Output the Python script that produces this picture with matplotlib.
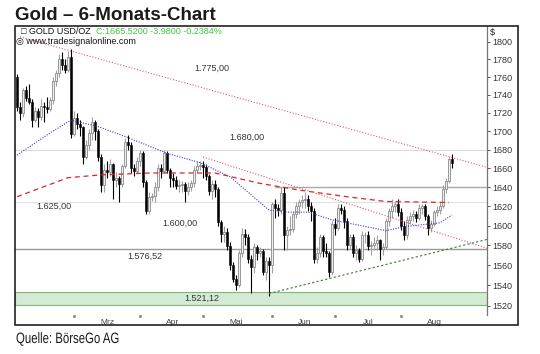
import numpy as np
import matplotlib.pyplot as plt
from matplotlib.patches import Rectangle, PathPatch
from matplotlib.ticker import FixedLocator, NullLocator
from matplotlib.textpath import TextPath
from matplotlib.font_manager import FontProperties
from matplotlib.transforms import Affine2D

# daily candles (trading days 3 Feb - 24 Aug)
opens = [1760, 1727, 1720, 1745, 1737, 1732, 1712, 1722, 1716, 1728,
         1726, 1724, 1734, 1756, 1764, 1781, 1774, 1768, 1783, 1697,
         1714, 1708, 1704, 1672, 1685, 1698, 1710, 1700, 1672, 1642,
         1658, 1656, 1665, 1648, 1650, 1643, 1662, 1688, 1685, 1660,
         1657, 1668, 1676, 1645, 1615, 1630, 1631, 1640, 1660, 1657,
         1676, 1658, 1650, 1648, 1641, 1642, 1643, 1636, 1640, 1644,
         1658, 1662, 1664, 1661, 1652, 1636, 1643, 1638, 1604, 1592,
         1594, 1579, 1560, 1546, 1540, 1572, 1592, 1588, 1566, 1558,
         1578, 1572, 1574, 1553, 1564, 1560, 1622, 1618, 1616, 1634,
         1590, 1596, 1597, 1612, 1620, 1624, 1627, 1628, 1620, 1615,
         1566, 1572, 1588, 1574, 1572, 1553, 1602, 1598, 1618, 1616,
         1605, 1580, 1588, 1572, 1575, 1566, 1590, 1590, 1579, 1580,
         1582, 1585, 1576, 1578, 1605, 1615, 1620, 1622, 1614, 1600,
         1590, 1606, 1610, 1612, 1608, 1618, 1620, 1610, 1598, 1602,
         1614, 1616, 1620, 1638, 1646, 1669.5]
highs = [1763, 1732, 1748, 1750, 1752, 1735, 1726, 1725, 1735, 1732,
         1738, 1738, 1760, 1768, 1786, 1788, 1780, 1790, 1792, 1722,
         1720, 1712, 1706, 1690, 1702, 1715, 1712, 1702, 1675, 1665,
         1668, 1670, 1666, 1656, 1652, 1665, 1692, 1696, 1688, 1665,
         1672, 1680, 1678, 1648, 1635, 1634, 1645, 1665, 1665, 1680,
         1678, 1660, 1655, 1652, 1648, 1647, 1645, 1645, 1648, 1662,
         1668, 1668, 1668, 1665, 1654, 1648, 1648, 1640, 1606, 1600,
         1598, 1583, 1563, 1550, 1575, 1598, 1597, 1592, 1570, 1582,
         1580, 1578, 1576, 1568, 1568, 1625, 1628, 1622, 1640, 1640,
         1600, 1610, 1615, 1625, 1628, 1632, 1635, 1632, 1625, 1618,
         1578, 1592, 1590, 1582, 1574, 1605, 1608, 1622, 1622, 1620,
         1608, 1592, 1592, 1580, 1577, 1595, 1594, 1595, 1584, 1588,
         1590, 1586, 1582, 1608, 1618, 1628, 1626, 1628, 1618, 1605,
         1610, 1614, 1616, 1615, 1622, 1622, 1622, 1612, 1606, 1616,
         1620, 1624, 1642, 1650, 1672, 1675]
lows = [1722, 1712, 1715, 1733, 1730, 1705, 1710, 1705, 1712, 1710,
        1720, 1722, 1730, 1750, 1760, 1768, 1764, 1766, 1692, 1695,
        1702, 1695, 1665, 1670, 1680, 1690, 1690, 1668, 1635, 1635,
        1650, 1652, 1628, 1640, 1625, 1640, 1660, 1680, 1655, 1652,
        1655, 1662, 1640, 1612, 1612, 1626, 1625, 1636, 1650, 1655,
        1655, 1640, 1640, 1638, 1635, 1635, 1625, 1632, 1636, 1640,
        1655, 1658, 1650, 1648, 1632, 1628, 1630, 1600, 1583, 1583,
        1575, 1555, 1543, 1535, 1538, 1568, 1580, 1562, 1532, 1552,
        1565, 1568, 1550, 1545, 1530, 1552, 1608, 1610, 1612, 1575,
        1575, 1590, 1594, 1608, 1612, 1618, 1618, 1615, 1605, 1562,
        1562, 1568, 1568, 1568, 1548, 1550, 1590, 1596, 1612, 1598,
        1575, 1576, 1568, 1565, 1563, 1564, 1582, 1575, 1570, 1575,
        1575, 1565, 1570, 1576, 1600, 1608, 1614, 1610, 1596, 1585,
        1586, 1602, 1605, 1604, 1606, 1612, 1606, 1590, 1594, 1600,
        1610, 1612, 1618, 1634, 1644, 1660]
closes = [1727, 1720, 1745, 1737, 1732, 1712, 1722, 1716, 1728, 1726,
          1724, 1734, 1756, 1764, 1781, 1774, 1768, 1783, 1697, 1714,
          1708, 1704, 1672, 1685, 1698, 1710, 1700, 1672, 1642, 1658,
          1656, 1665, 1648, 1650, 1643, 1662, 1688, 1685, 1660, 1657,
          1668, 1676, 1645, 1615, 1630, 1631, 1640, 1660, 1657, 1676,
          1658, 1650, 1648, 1641, 1642, 1643, 1636, 1640, 1644, 1658,
          1662, 1664, 1661, 1652, 1636, 1643, 1638, 1604, 1592, 1594,
          1579, 1560, 1546, 1540, 1572, 1592, 1588, 1566, 1558, 1578,
          1572, 1574, 1553, 1564, 1560, 1622, 1618, 1616, 1634, 1590,
          1596, 1597, 1612, 1620, 1624, 1627, 1628, 1620, 1615, 1566,
          1572, 1588, 1574, 1572, 1553, 1602, 1598, 1618, 1616, 1605,
          1580, 1588, 1572, 1575, 1566, 1590, 1590, 1579, 1580, 1582,
          1585, 1576, 1578, 1605, 1615, 1620, 1622, 1614, 1600, 1590,
          1606, 1610, 1612, 1608, 1618, 1620, 1610, 1598, 1602, 1614,
          1616, 1620, 1638, 1646, 1669.5, 1665.5]

# moving averages, sampled from the chart
ma_blue_x = [0, 11, 18, 27, 37, 50, 61, 71, 81, 84, 90, 97, 105, 123, 129, 141, 145]
ma_blue_y = [1674, 1698, 1712, 1705, 1693, 1676, 1666, 1651, 1624, 1616,
             1614, 1614, 1606, 1595, 1599, 1603, 1611]
ma_red_x = [0, 17, 28, 44, 66, 81, 94, 110, 123, 144]
ma_red_y = [1630, 1650, 1653, 1655, 1655, 1644, 1637, 1630, 1625, 1624]

# trend lines (x in trading days, y in USD)
res1_x, res1_y = [1, 156.7], [1806, 1661]
res2_x, res2_y = [62, 156.7], [1672, 1577]
sup_x, sup_y = [84, 156.7], [1532, 1586]

# marked levels
levels = [1775.00, 1680.00, 1625.00, 1600.00, 1576.52, 1521.12]
band_top = 1533

months = ['Mrz', 'Apr', 'Mai', 'Jun', 'Jul', 'Aug']
month_start = [19, 41, 62, 85, 106, 128]
yticks = list(range(1520, 1801, 20))

plt.rcParams['font.family'] = ['Liberation Sans', 'DejaVu Sans']

def de_fmt(v):
    return f"{v:,.2f}".replace(',', 'X').replace('.', ',').replace('X', '.')

o = np.array(opens, float)
h = np.array(highs, float)
l = np.array(lows, float)
c = np.array(closes, float)
x = np.arange(len(c))
up = c >= o

fig = plt.figure(figsize=(5.4, 3.54), dpi=100)
ax = fig.add_axes([15/540, 1 - 315/354, 472/540, 289/354])
ax.set_yscale('log')
ax.set_xlim(-0.67, 156.67)
ax.set_ylim(1511, 1818.5)

# horizontal levels
ax.axhline(levels[1], color='#dcdcdc', lw=0.8, zorder=0)
ax.axhline(levels[2], color='#e2e2e2', lw=0.8, zorder=0)
ax.hlines(1640, 86, 156.67, color='#ababab', lw=1.0, zorder=0)
ax.axhline(levels[4], color='#9a9a9a', lw=1.0, zorder=0)
ax.axhspan(levels[5], band_top, facecolor='#d3ead3', edgecolor='#86b386', lw=0.8, zorder=0)

# candles
ax.vlines(x[up], l[up], h[up], color='#a0a0a0', lw=0.8, zorder=2)
ax.vlines(x[~up], l[~up], h[~up], color='black', lw=0.8, zorder=2)
body_lo = np.minimum(o, c)
body_h = np.maximum(np.abs(c - o), 0.8)
ax.bar(x[up], body_h[up], bottom=body_lo[up], width=0.85, color='#eeeeee',
       edgecolor='#8a8a8a', lw=0.6, zorder=3)
ax.bar(x[~up], body_h[~up], bottom=body_lo[~up], width=0.85, color='black',
       edgecolor='black', lw=0.4, zorder=3)

# indicators / trend lines
ax.plot(ma_blue_x, ma_blue_y, color='#3b3bd0', lw=0.8, ls=(0, (1, 1.3)), zorder=4)
ax.plot(ma_red_x, ma_red_y, color='#d22a2a', lw=0.9, ls=(0, (4, 3)), zorder=4)
ax.plot(res1_x, res1_y, color='#e2566a', lw=0.8, ls=(0, (1, 1.6)), zorder=4)
ax.plot(res2_x, res2_y, color='#e2566a', lw=0.8, ls=(0, (1, 1.6)), zorder=4)
ax.plot(sup_x, sup_y, color='#2f7f2f', lw=0.8, ls=(0, (2, 2)), zorder=4)

# level labels
label_pos = [(65, 1770), (76.7, 1693), (12.3, 1619.5), (54.3, 1602), (42.7, 1568.5), (61.7, 1527.5)]
for v, (px, py) in zip(levels, label_pos):
    ax.text(px, py, de_fmt(v), ha='center', va='center', fontsize=6.5,
            color='#333333', zorder=5)

# y axis on the right
ax.yaxis.tick_right()
ax.yaxis.set_major_locator(FixedLocator(yticks))
ax.yaxis.set_minor_locator(NullLocator())
ax.set_yticklabels([str(t) for t in yticks])
ax.tick_params(axis='y', labelsize=6.5, colors='#333333', length=2.5, width=0.6, pad=1.5)
ax.set_xticks([])
for s in ['left', 'top', 'bottom']:
    ax.spines[s].set_visible(False)
ax.spines['right'].set_color('#777777')
ax.spines['right'].set_linewidth(0.9)

# month labels and dots
for m, s in zip(months, month_start):
    ax.plot(s, -0.003, marker='s', ms=1.0, color='#888888',
            transform=ax.get_xaxis_transform(), clip_on=False)
    ax.text(s + 11, -0.027, m, ha='center', va='center', fontsize=6,
            color='#444444', transform=ax.get_xaxis_transform(), clip_on=False)

# frame + header texts
fig.patches.append(Rectangle((15/540, 1 - 325/354), 503/540, 299/354,
                             transform=fig.transFigure, fill=False,
                             lw=1.2, ec='#222222'))
fig.text(15/540, 1 - 20/354, 'Gold \u2013 6-Monats-Chart', fontsize=13.5,
         fontweight='bold', color='#1a1a1a', va='baseline')
fig.text(21/540, 1 - 32/354, '\u25a1 GOLD USD/OZ', fontsize=6.5, va='center', color='#111111')
fig.text(96/540, 1 - 32/354, 'C:1665.5200 -3.9800 -0.2384%', fontsize=6.5,
         va='center', color='#3cc83c')
fig.text(16/540, 1 - 42/354, '\u25ce www.tradesignalonline.com', fontsize=6.5,
         va='center', color='#111111')
fig.text(490/540, 1 - 32/354, '$', fontsize=6.5, va='center', color='#222222')

# source line in a condensed look (no narrow font installed)
src = TextPath((0, 0), 'Quelle: BörseGo AG', size=15,
               prop=FontProperties(family='Liberation Sans'))
src_tr = Affine2D().scale(0.76, 1.0).translate(16, 354 - 343)
fig.patches.append(PathPatch(src, transform=src_tr, color='#1a1a1a', lw=0))

fig.savefig('out.png', dpi=100)
